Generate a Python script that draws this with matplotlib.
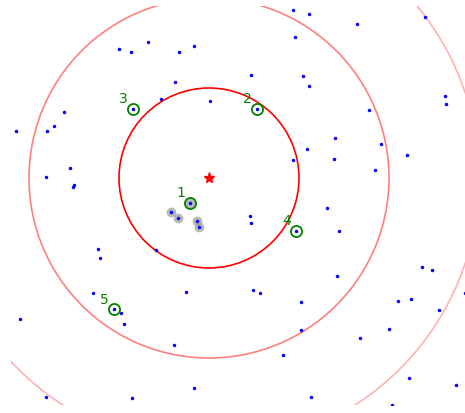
import numpy as np
import matplotlib
matplotlib.use("Agg")
import matplotlib.pyplot as plt

# field points, star at origin, inner ring radius = 1
pts_x = [0.93, 1.11, 1.64, 2.40, 0.96, -1.00, -0.87, -0.68, -0.33, -0.17,
         0.47, 1.04, 1.11, -0.38, -0.53, 0.01, 1.78, 2.62, 2.63, -1.61,
         -1.72, -1.80, -2.14, 1.40, 1.09, 0.93, 1.39, 1.91, 2.20, 1.84,
         -1.54, -1.81, -1.50, -1.51, 1.31, 1.44, 0.46, 0.47, -0.59, -1.23,
         -1.21, 2.37, 2.48, 1.42, -1.29, -0.26, 0.49, 0.57, 2.84, 1.02,
         2.10, 2.24, 2.56, -0.98, -2.10, -0.94, 1.02, 2.00, 1.68, -0.39,
         0.82, 2.22, 2.74, -0.17, -1.81, -0.86, 1.13, 2.03]
pts_y = [1.87, 1.82, 1.71, 1.79, 1.57, 1.43, 1.40, 1.51, 1.40, 1.47,
         1.14, 1.13, 1.02, 1.07, 0.88, 0.86, 0.76, 0.91, 0.82, 0.73,
         0.58, 0.52, 0.52, 0.44, 0.32, 0.20, 0.21, 0.38, 0.26, 0.09,
         0.11, 0.01, -0.08, -0.10, -0.33, -0.59, -0.42, -0.50, -0.80, -0.79,
         -0.89, -0.99, -1.02, -1.09, -1.28, -1.27, -1.24, -1.28, -1.28, -1.38,
         -1.37, -1.34, -1.47, -1.50, -1.57, -1.62, -1.69, -1.68, -1.78, -1.86,
         -1.97, -2.22, -2.30, -2.33, -2.43, -2.44, -2.43, -2.52]

# numbered (highlighted) points
lab_x = [-0.21, 0.53, -0.84, 0.97, -1.06]
lab_y = [-0.28, 0.77, 0.77, -0.59, -1.46]
lab_txt = ["1", "2", "3", "4", "5"]

# shaded group near point 1 (point 1 itself included)
grp_x = [-0.21, -0.42, -0.34, -0.13, -0.11]
grp_y = [-0.28, -0.38, -0.44, -0.48, -0.54]

radii = [1, 2, 3]
ring_alpha = [1.0, 0.5, 0.3]

fig = plt.figure(figsize=(4.65, 4.13), dpi=100)
# axes box runs a little past the right edge of the picture
ax = fig.add_axes([11 / 465, 8 / 413, 464 / 465, 399 / 413])

for r, a in zip(radii, ring_alpha):
    ax.add_patch(plt.Circle((0, 0), r, fill=False, color="red", alpha=a, lw=1.2))

ax.plot(grp_x, grp_y, "o", color="#a0a0a0", alpha=0.75, markersize=7, mec="none")
all_x = pts_x + lab_x + grp_x[1:]
all_y = pts_y + lab_y + grp_y[1:]
ax.plot(all_x, all_y, "o", color="blue", markersize=2.5, mec="none")
ax.plot(lab_x, lab_y, "o", mfc="none", mec="green", mew=1.3, markersize=8)
for x, y, t in zip(lab_x, lab_y, lab_txt):
    ax.annotate(t, (x, y), xytext=(-7, 7), textcoords="offset points",
                ha="center", va="center", color="green", fontsize=10)

ax.plot([0], [0], "*", color="red", markersize=8)

ax.set_xlim(-2.2, 2.9556)
ax.set_ylim(-2.5222, 1.9111)
ax.axis("off")

fig.savefig("out.png", dpi=100)
